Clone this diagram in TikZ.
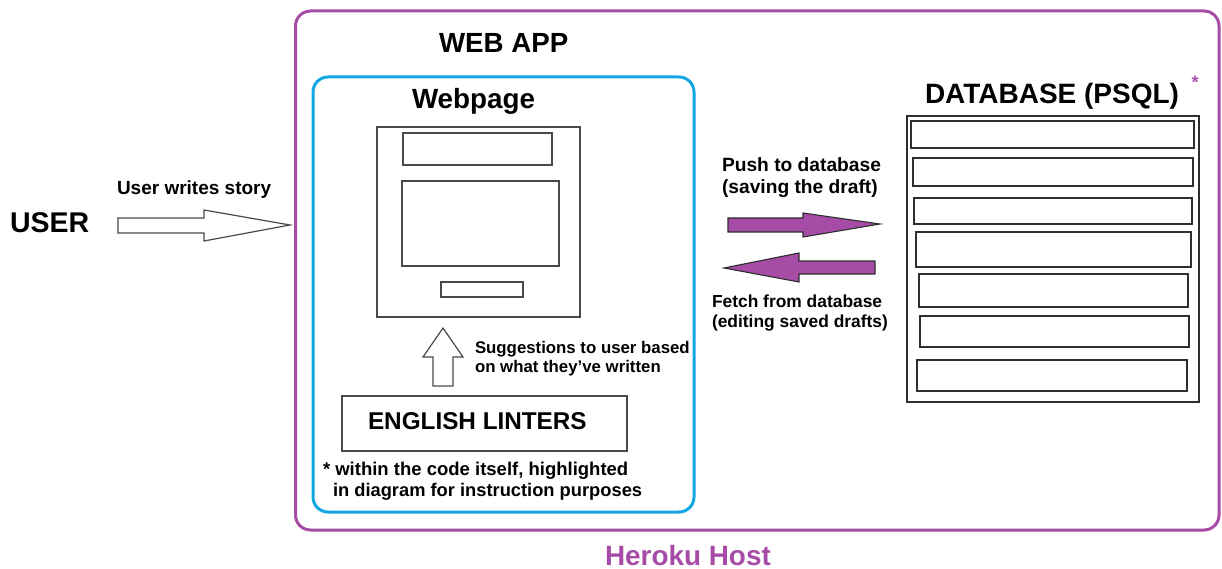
\documentclass[tikz,border=0pt]{standalone}
\usepackage{fontspec}
\setmainfont{Liberation Sans}
\definecolor{heroku}{HTML}{A64CA6}
\definecolor{webblue}{HTML}{12A6E3}
\definecolor{sketch}{HTML}{4A4A4A}
\definecolor{dbline}{HTML}{2E2E2E}
\newcommand\txtsize[1]{\fontsize{#1}{#1}\selectfont\bfseries}
\tikzset{
  frame/.style={line width=3pt, rounded corners=15pt},
  panel/.style={draw=sketch, line width=1.3pt, anchor=north west, inner sep=0pt, outer sep=0pt},
  dbrow/.style={draw=dbline, line width=1.3pt, anchor=north west, inner sep=0pt, outer sep=0pt},
  lbl/.style={anchor=base west, inner sep=0pt, outer sep=0pt},
  hollow/.style={draw=sketch, line width=1.2pt, fill=white, line join=miter},
  solid/.style={draw=dbline, line width=1.1pt, fill=heroku, line join=miter},
}
\begin{document}
\begin{tikzpicture}[x=1pt, y=-1pt]
\useasboundingbox (0,0) rectangle (1222,569);

% hosting frame and web app frame
\draw[frame, draw=heroku] (295.5,11) rectangle (1219,530);
\draw[frame, draw=webblue] (313,77) rectangle (694,512);

% titles
\node[lbl] (webapp) at (439,53) {\txtsize{27.7}WEB APP};
\node[lbl] (webpage) at (412,109) {\txtsize{27.8}Webpage};
\node[lbl] (db) at (925,103.5) {\txtsize{28}DATABASE (PSQL)};
\node[lbl, text=heroku] (dbstar) at (1191.5,89) {\txtsize{18}*};
\node[lbl] (user) at (10,233) {\txtsize{28.5}USER};
\node[lbl, text=heroku] (host) at (605,565.5) {\txtsize{27.9}Heroku Host};

% webpage mock-up
\node[panel, minimum width=203pt, minimum height=190pt] (page) at (377,127) {};
\node[panel, minimum width=149pt, minimum height=32pt] (header) at (403,133) {};
\node[panel, minimum width=157pt, minimum height=85pt] (content) at (402,181) {};
\node[panel, minimum width=82pt, minimum height=15pt] (button) at (441,282) {};

% linters box
\node[panel, minimum width=285pt, minimum height=55pt] (linters) at (342,396) {};
\node[lbl] (lintxt) at (368,429) {\txtsize{24.3}ENGLISH LINTERS};

% database table and its rows
\node[panel, draw=dbline, minimum width=292pt, minimum height=286pt] (dbbox) at (907,116) {};
\node[dbrow, minimum width=283pt, minimum height=27pt] (r1) at (911,121) {};
\node[dbrow, minimum width=280pt, minimum height=28pt] (r2) at (913,158) {};
\node[dbrow, minimum width=278pt, minimum height=26pt] (r3) at (914,198) {};
\node[dbrow, minimum width=275pt, minimum height=35pt] (r4) at (916,232) {};
\node[dbrow, minimum width=269pt, minimum height=33pt] (r5) at (919,274) {};
\node[dbrow, minimum width=269pt, minimum height=31pt] (r6) at (920,316) {};
\node[dbrow, minimum width=270pt, minimum height=31pt] (r7) at (917,360) {};

% arrows
\draw[hollow] (118,218) -- (204,218) -- (204,210) -- (290,225) -- (204,241) -- (204,233) -- (118,233) -- cycle;
\draw[hollow] (443,328) -- (463,357) -- (453,357) -- (453,386) -- (433,386) -- (433,357) -- (423,357) -- cycle;
\draw[solid] (728,218) -- (803,218) -- (803,213) -- (880,224) -- (803,237) -- (803,232) -- (728,232) -- cycle;
\draw[solid] (724,268) -- (799,253) -- (799,261) -- (875,261) -- (875,274) -- (799,274) -- (799,282) -- cycle;

% arrow captions
\node[lbl] (story) at (117,195) {\txtsize{19}User writes story};
\node[lbl] (push1) at (722,172) {\txtsize{19.2}Push to database};
\node[lbl] (push2) at (722,194) {\txtsize{19.2}(saving the draft)};
\node[lbl] (fetch1) at (712,307) {\txtsize{17.4}Fetch from database};
\node[lbl] (fetch2) at (712,327) {\txtsize{17.4}(editing saved drafts)};
\node[lbl] (sugg1) at (475,353) {\txtsize{16.8}Suggestions to user based};
\node[lbl] (sugg2) at (475,372) {\txtsize{16.8}on what they've written};
\node[lbl] (note1) at (323,475) {\txtsize{18.5}* within the code itself, highlighted};
\node[lbl] (note2) at (333,496) {\txtsize{18.3}in diagram for instruction purposes};
\end{tikzpicture}
\end{document}
